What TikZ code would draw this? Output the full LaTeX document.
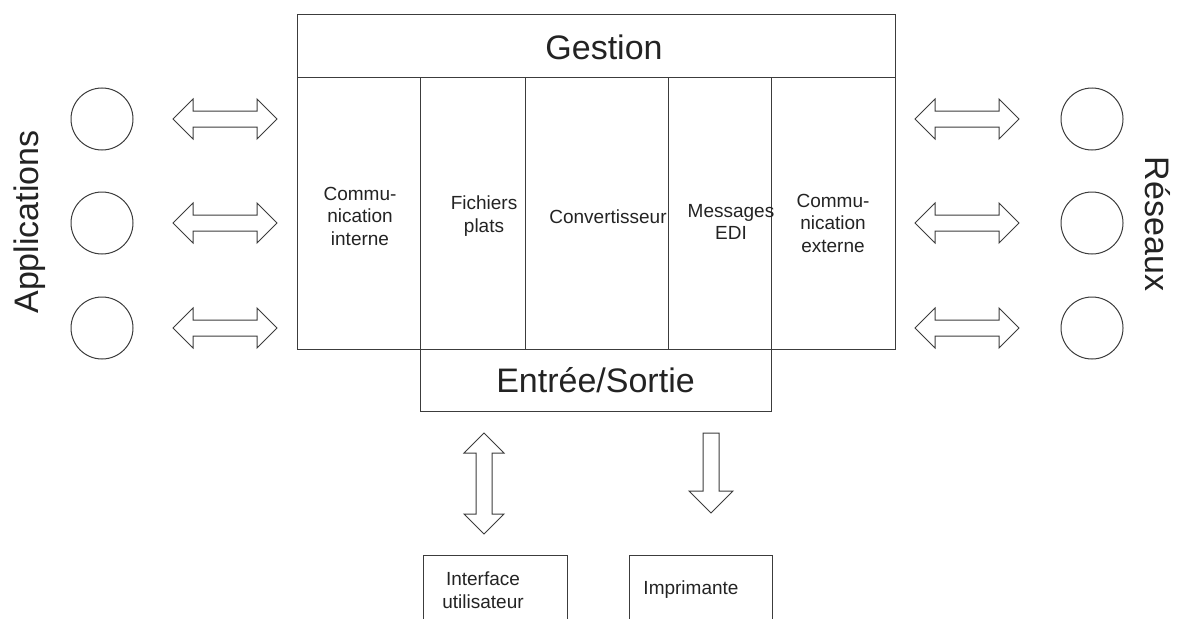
\documentclass[tikz,border=0pt]{standalone}
\usepackage{fontspec}
\setmainfont{Liberation Sans}
\usetikzlibrary{shapes.arrows,positioning}
\definecolor{linegray}{RGB}{60,60,60}
\definecolor{textgray}{RGB}{35,35,35}

\begin{document}
\begin{tikzpicture}[x=1pt, y=-1pt,
    boxframe/.style={draw=linegray, line width=1pt, inner sep=0pt, outer sep=0pt},
    column/.style={boxframe, minimum height=272pt},
    coltext/.style={text=textgray, align=center, inner sep=0pt,
                    font=\fontsize{19}{22.5}\selectfont},
    bigtext/.style={text=textgray, inner sep=0pt, font=\fontsize{34}{40}\selectfont},
    app/.style={circle, draw=linegray, line width=1pt, minimum size=62pt, inner sep=0pt},
    dblarrow/.style={double arrow, draw=linegray, line width=1pt,
                     inner xsep=0pt, inner ysep=7.5pt, minimum height=104pt,
                     double arrow head extend=12pt, double arrow tip angle=90},
    dnarrow/.style={single arrow, draw=linegray, line width=1pt,
                    inner xsep=0pt, inner ysep=7.5pt, minimum height=80pt,
                    single arrow head extend=14pt, single arrow tip angle=90}
]
\useasboundingbox (0,0) rectangle (1177,618);

% Gestion header on top of the five columns
\node[boxframe, minimum width=598pt, minimum height=62pt] (gestion) at (596,46) {};
\node[bigtext] (gestion-txt) at (604,47) {Gestion};

\node[column, minimum width=123pt] (col1) at (358.5,213) {};
\node[column, minimum width=105pt] (col2) at (472.5,213) {};
\node[column, minimum width=143pt] (col3) at (596.5,213) {};
\node[column, minimum width=103pt] (col4) at (719.5,213) {};
\node[column, minimum width=124pt] (col5) at (833,213) {};

\node[coltext] (col1-txt) at (360,216) {Commu-\\nication\\interne};
\node[coltext] (col2-txt) at (484,216) {Fichiers\\plats};
\node[coltext] (col3-txt) at (608,217) {Convertisseur};
\node[coltext] (col4-txt) at (731,222) {Messages\\EDI};
\node[coltext] (col5-txt) at (833,223) {Commu-\\nication\\externe};

% Entree/Sortie under the middle columns
\node[boxframe, bigtext, minimum width=351pt, minimum height=62pt] (es) at (595.5,380) {Entrée/Sortie};

% Applications on the left, networks on the right
\node[bigtext, rotate=90] (apps) at (30,222) {Applications};
\node[bigtext, rotate=-90] (nets) at (1158,224) {Réseaux};

\foreach \y [count=\i] in {119,223,328} {
    \node[app] (app\i) at (102,\y) {};
    \node[dblarrow] (la\i) at (225,\y) {};
    \node[dblarrow] (ra\i) at (967,\y) {};
    \node[app] (net\i) at (1092,\y) {};
}

% Devices below
\node[dblarrow, rotate=90, minimum height=101pt] (ui-arrow) at (484,483.5) {};
\node[dnarrow, rotate=-90] (pr-arrow) at (711,469) {};

\node[boxframe, minimum width=144pt, minimum height=70pt] (ui) at (495,590) {};
\node[boxframe, minimum width=143pt, minimum height=70pt] (printer) at (700.5,590) {};
\node[coltext] (ui-txt) at (483,590) {Interface\\utilisateur};
\node[coltext] (printer-txt) at (691,590) {Imprimante};

\end{tikzpicture}
\end{document}
